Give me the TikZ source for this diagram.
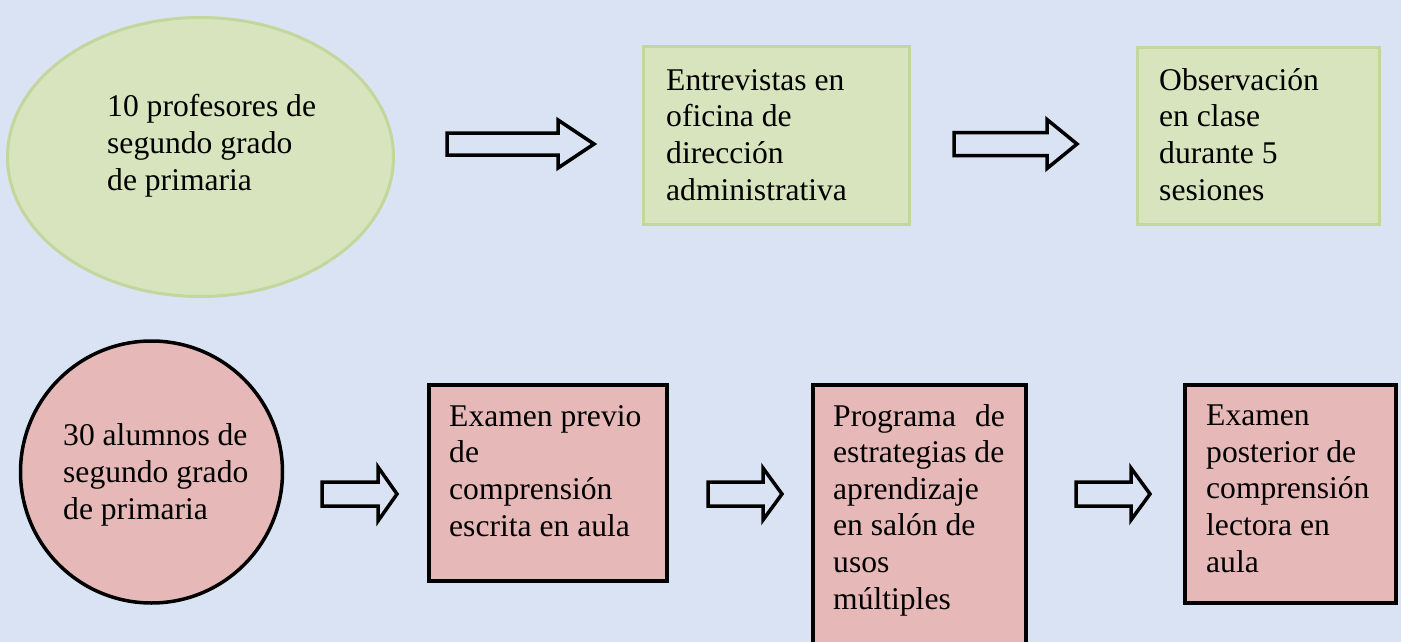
\documentclass[tikz,border=0pt]{standalone}
\usepackage{fontspec}
\setmainfont{Liberation Serif}
\usetikzlibrary{shapes.geometric}

\definecolor{fondo}{RGB}{218,227,243}
\definecolor{rellenoVerde}{RGB}{215,228,189}
\definecolor{bordeVerde}{RGB}{195,214,155}
\definecolor{rellenoRosa}{RGB}{230,185,184}

\tikzset{
  verde/.style={draw=bordeVerde, fill=rellenoVerde, line width=3pt},
  rosa/.style={draw=black, fill=rellenoRosa, line width=3.5pt},
  caja/.style={rectangle, inner sep=0pt},
  texto/.style={anchor=base west, inner sep=0pt, align=left, font=\fontsize{31.6}{36.6}\selectfont},
  flecha/.style={draw=black, line width=3.5pt, line join=miter}
}

% block arrow: tail x, centre y, head x, tip x, half shaft, half head
\newcommand{\bloque}[6]{%
  \draw[flecha] (#1,#2-#5) -- (#3,#2-#5) -- (#3,#2-#6) -- (#4,#2) -- (#3,#2+#6) -- (#3,#2+#5) -- (#1,#2+#5) -- cycle;}

\begin{document}
\begin{tikzpicture}[x=1pt,y=1pt,yscale=-1,xscale=1]
\clip (0,0) rectangle (1401,642);
\fill[fondo] (0,0) rectangle (1401,642);

%Row: profesores
\node[verde, ellipse, inner sep=0pt, minimum width=386pt, minimum height=279pt] (prof) at (200.5,157) {};
\node[verde, caja, minimum width=266pt, minimum height=177pt] (entrev) at (776,135.5) {};
\node[verde, caja, minimum width=242pt, minimum height=176pt] (observ) at (1258,136) {};

%Row: alumnos
\node[rosa, circle, inner sep=0pt, minimum size=262pt] (alum) at (151.5,472) {};
\node[rosa, caja, minimum width=238pt, minimum height=196pt] (examPrev) at (548,483) {};
\node[rosa, caja, minimum width=213pt, minimum height=315pt] (programa) at (919.5,542.5) {};
\node[rosa, caja, minimum width=211pt, minimum height=218pt] (examPost) at (1290.5,494) {};

%Block arrows
\bloque{447}{144}{558}{594}{11}{24}
\bloque{954}{144}{1047}{1077}{11.5}{24.5}
\bloque{322}{494}{378}{397}{12}{27}
\bloque{708}{494}{763}{782}{12}{26}
\bloque{1076}{494}{1131}{1150}{12}{26}

% Text Node (base = last line)
\node[texto] (profT) at (107,190) {10 profesores de\\segundo grado\\de primaria};
% Text Node
\node[texto] (entrevT) at (666,200) {Entrevistas en\\oficina de\\dirección\\administrativa};
% Text Node
\node[texto] (observT) at (1159,200) {Observación\\en clase\\durante 5\\sesiones};
% Text Node
\node[texto] (alumT) at (63,519) {30 alumnos de\\segundo grado\\de primaria};
% Text Node
\node[texto] (examPrevT) at (449,536) {Examen previo\\de\\comprensión\\escrita en aula};
% Text Node
\node[texto] (programaT) at (833,609) {Programa\hspace{19pt}de\\estrategias de\\aprendizaje\\en salón de\\usos\\múltiples};
% Text Node
\node[texto] (examPostT) at (1206,572) {Examen\\posterior de\\comprensión\\lectora en\\aula};

\end{tikzpicture}
\end{document}
